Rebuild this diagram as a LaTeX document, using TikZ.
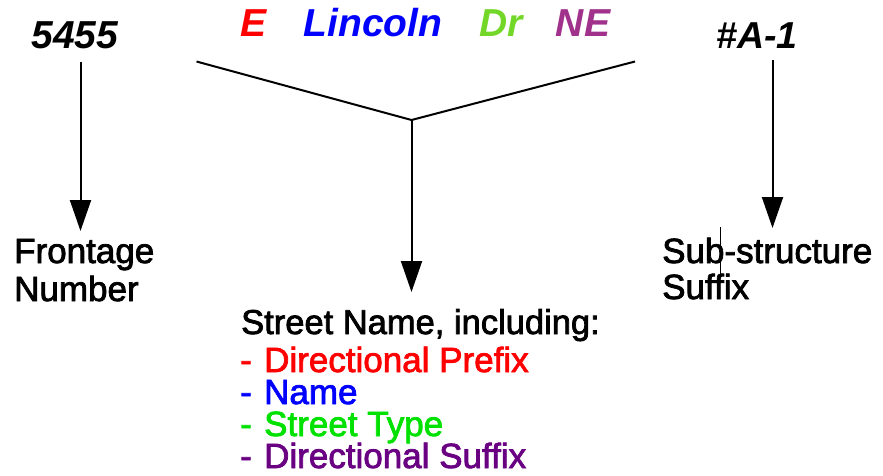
\documentclass[tikz,border=0pt]{standalone}
\usepackage{fontspec}
\setmainfont{Liberation Sans}
\newfontfamily\heavyfont[FakeBold=2.2]{Liberation Sans}
\usetikzlibrary{arrows.meta}
\definecolor{cE}{RGB}{255,0,0}
\definecolor{cName}{RGB}{0,0,255}
\definecolor{cDr}{RGB}{115,215,40}
\definecolor{cNE}{RGB}{160,50,140}
\definecolor{cType}{RGB}{0,225,0}
\definecolor{cSuf}{RGB}{105,0,130}
\tikzset{
  toptxt/.style={inner sep=0pt, anchor=base, font=\fontsize{39}{39}\selectfont\bfseries\itshape},
  lbl/.style={inner sep=0pt, anchor=base west, font=\heavyfont\fontsize{35}{38}\selectfont},
  hdr/.style={inner sep=0pt, anchor=base west, font=\heavyfont\fontsize{34.5}{32}\selectfont},
  item/.style={inner sep=0pt, anchor=base west, font=\heavyfont\fontsize{35}{32}\selectfont},
  conn/.style={line width=2pt, black},
  arr/.style={conn, -{Triangle[width=21pt,length=31pt]}},
}
\newcommand{\dashitem}[1]{\makebox[24pt][l]{-}#1}
\begin{document}
\begin{tikzpicture}[x=1pt,y=1pt]
\useasboundingbox (0,0) rectangle (883,-475);
% top texts
\node[toptxt] (num) at (75,-48) {5455};
\node[toptxt, text=cE] (wE) at (254,-36) {E};
\node[toptxt, text=cName] (wLin) at (373,-36) {Lincoln};
\node[toptxt, text=cDr] (wDr) at (501,-36) {Dr};
\node[toptxt, text=cNE] (wNE) at (583,-36) {NE};
\node[toptxt, font=\fontsize{37.5}{38}\selectfont\bfseries\itshape] (suf) at (757,-48) {\#A-1};
% labels
\node[lbl] (front1) at (14,-263) {Frontage};
\node[lbl] (front2) at (14,-301) {Number};
\node[lbl] (sub1) at (662,-263) {Sub-structure};
\node[lbl] (sub2) at (662,-299) {Suffix};
\node[hdr] (sthdr) at (241,-334) {Street Name, including:};
\node[item, text=cE] (it1) at (240,-372) {\dashitem{Directional Prefix}};
\node[item, text=cName] (it2) at (240,-404) {\dashitem{Name}};
\node[item, text=cType] (it3) at (240,-436) {\dashitem{Street Type}};
\node[item, text=cSuf] (it4) at (240,-468) {\dashitem{Directional Suffix}};
% connector points
\coordinate (numfoot) at (80.5,-61.5);
\coordinate (numtip) at (80.5,-231);
\coordinate (stl) at (196.5,-61.5);
\coordinate (stv) at (411.5,-120);
\coordinate (str) at (635,-61.5);
\coordinate (sttip) at (411.5,-292);
\coordinate (suffoot) at (772.5,-60);
\coordinate (suftip) at (772.5,-228);
\draw[arr] (numfoot) -- (numtip);
\draw[conn, line join=miter] (stl) -- (stv) -- (str);
\draw[arr] (stv) -- (sttip);
\draw[arr] (suffoot) -- (suftip);
% stray caret line shown in the reference
\coordinate (car1) at (720.7,-227);
\coordinate (car2) at (720.7,-277);
\draw[line width=0.6pt] (car1) -- (car2);
\end{tikzpicture}
\end{document}
